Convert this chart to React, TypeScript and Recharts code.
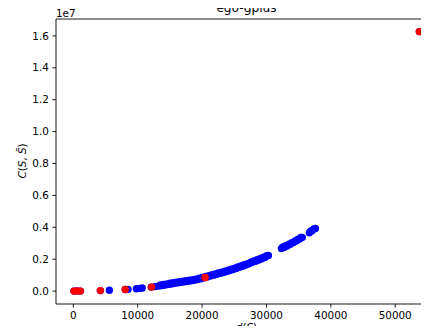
import React from 'react';
import { ScatterChart, Scatter, XAxis, YAxis, ReferenceLine } from 'recharts';

// values (d in units, C in millions)
const blueD = [
  100, 600, 1100, 4200, 5600, 8060, 8500, 9800, 10300, 10700, 12100, 12700,
  13300, 13800, 14300, 14800, 15300, 15800, 16300, 16800, 17300, 17800, 18300, 18800,
  19300, 19800, 20300, 20800, 21300, 21800, 22300, 22800, 23300, 23800, 24300, 24800,
  25300, 25800, 26300, 26800, 27300, 27800, 28300, 28800, 29300, 29800, 30300,
  32330, 32800, 33250, 33700, 34200, 34700, 35150, 35580,
  36670, 37100, 37600,
  53750,
];
const blueC = [
  0.0, 0.01, 0.0, 0.03, 0.05, 0.1, 0.11, 0.15, 0.17, 0.19, 0.25, 0.28,
  0.32, 0.35, 0.38, 0.42, 0.45, 0.49, 0.52, 0.55, 0.58, 0.61, 0.65, 0.68,
  0.72, 0.77, 0.83, 0.89, 0.95, 1.0, 1.05, 1.11, 1.16, 1.22, 1.29, 1.35,
  1.42, 1.5, 1.56, 1.63, 1.71, 1.8, 1.87, 1.95, 2.03, 2.12, 2.23,
  2.67, 2.75, 2.84, 2.94, 3.04, 3.15, 3.26, 3.37,
  3.66, 3.78, 3.93,
  16.27,
];

// the upper edge of the thick band
const bandD = [
  13550, 14050, 14550, 15050, 15550, 16050, 16550, 17050, 17550, 18050, 18550, 19050,
  19550, 20050, 20550, 21050, 21550, 22050, 22550, 23050, 23550, 24050, 24550, 25050,
  25550, 26050, 26550, 27050, 27550, 28050, 28550, 29050, 29550, 30050,
  32550, 33000, 33500, 33950, 34450, 34900, 35350, 36900, 37350,
];
const bandC = [
  0.39, 0.42, 0.45, 0.49, 0.52, 0.56, 0.59, 0.62, 0.65, 0.68, 0.72, 0.75,
  0.8, 0.85, 0.91, 0.97, 1.02, 1.08, 1.13, 1.19, 1.24, 1.31, 1.37, 1.44,
  1.51, 1.58, 1.65, 1.72, 1.81, 1.89, 1.96, 2.04, 2.13, 2.22,
  2.76, 2.85, 2.94, 3.04, 3.14, 3.25, 3.36, 3.77, 3.9,
];

const redD = [100, 600, 1100, 4200, 8060, 12150, 20470, 53750];
const redC = [0.0, 0.01, 0.0, 0.03, 0.1, 0.25, 0.85, 16.27];

const xTicks = [0, 10000, 20000, 30000, 40000, 50000];
const yTicks = [0, 2e6, 4e6, 6e6, 8e6, 10e6, 12e6, 14e6, 16e6];

const xDomain = [-2690, 56490];
const yDomain = [-810000, 17060000];

const blueData = blueD
  .map((d, i) => ({ d, c: blueC[i] * 1e6 }))
  .concat(bandD.map((d, i) => ({ d, c: bandC[i] * 1e6 })));
const redData = redD.map((d, i) => ({ d, c: redC[i] * 1e6 }));

const font = 'DejaVu Sans, sans-serif';

const dot = (color: string) => (props: any) => (
  <circle cx={props.cx} cy={props.cy} r={3.7} fill={color} />
);

// title, offset text and axis labels, drawn inside the chart svg
const Texts = () => (
  <g fontFamily={font} fill="#000">
    <text x={246.5} y={12} textAnchor="middle" fontSize={12.2}>
      ego-gplus
    </text>
    <text x={56} y={16.5} fontSize={10.4}>
      1e7
    </text>
    <text x={246.5} y={331} textAnchor="middle" fontSize={10.4}>
      <tspan fontStyle="italic">d</tspan>(<tspan fontStyle="italic">S</tspan>)
    </text>
    <text transform="translate(21.5,161) rotate(-90)" textAnchor="middle" dominantBaseline="central" fontSize={10.4}>
      <tspan fontStyle="italic">C</tspan>(<tspan fontStyle="italic">S</tspan>, <tspan fontStyle="italic">S̄</tspan>)
    </text>
  </g>
);

export default function App() {
  const tickStyle = { fontSize: 10.4, fontFamily: font, fill: '#000' };
  return (
    <div style={{ position: 'relative', width: 429, height: 334, margin: -8, overflow: 'hidden', background: '#fff' }}>
      <ScatterChart width={445} height={334} margin={{ top: 19, right: 8, bottom: 0, left: 0 }}>
        <XAxis
          type="number"
          dataKey="d"
          domain={xDomain}
          ticks={xTicks}
          allowDataOverflow
          height={30}
          tickSize={3.6}
          tickMargin={3.6}
          axisLine={{ stroke: '#000', strokeWidth: 0.9 }}
          tickLine={{ stroke: '#000', strokeWidth: 0.9 }}
          tick={tickStyle}
          label={<Texts />}
        />
        <YAxis
          type="number"
          dataKey="c"
          domain={yDomain}
          ticks={yTicks}
          allowDataOverflow
          width={56}
          tickSize={3.6}
          tickMargin={3.6}
          tickFormatter={(v: number) => (v / 1e7).toFixed(1)}
          axisLine={{ stroke: '#000', strokeWidth: 0.9 }}
          tickLine={{ stroke: '#000', strokeWidth: 0.9 }}
          tick={tickStyle}
        />
        <ReferenceLine y={yDomain[1]} stroke="#000" strokeWidth={0.9} />
        <ReferenceLine x={xDomain[1]} stroke="#000" strokeWidth={0.9} />
        <Scatter data={blueData} shape={dot('#0000ff')} isAnimationActive={false} />
        <Scatter data={redData} shape={dot('#ff0000')} isAnimationActive={false} />
      </ScatterChart>
    </div>
  );
}
